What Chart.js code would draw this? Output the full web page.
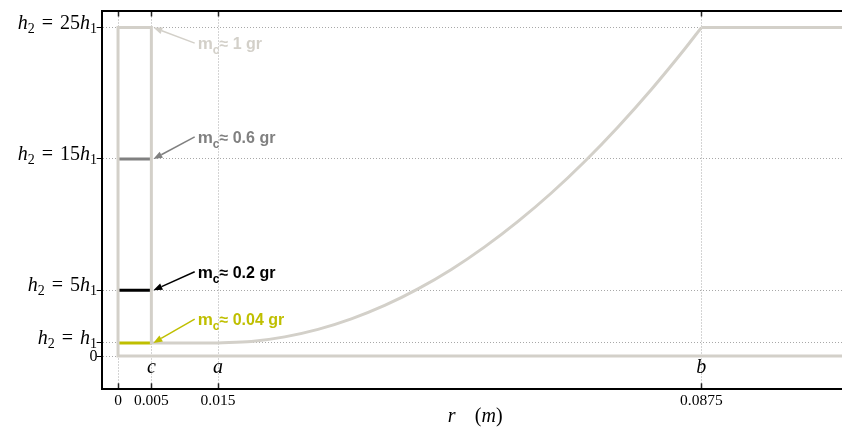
<!DOCTYPE html>
<html>
<head>
<meta charset="utf-8">
<script src="https://cdn.jsdelivr.net/npm/chart.js@4.4.0/dist/chart.umd.min.js"></script>
<style>
body { margin: 0; background: #fff; }
canvas { display: block; }
</style>
</head>
<body>
<canvas id="profile" width="842" height="430"></canvas>
<script>
// radius ticks (m) and the symbols written above them
var rTicks = [0, 0.005, 0.015, 0.0875];
var rTickLabels = ["0", "0.005", "0.015", "0.0875"];
var rSymbols = ["", "c", "a", "b"];
var rMin = -0.00245;
var rMax = 0.1086;

// height levels, in units of h1
var hTicks = [0, 1, 5, 15, 25];
var hTickLabels = ["0", "h_2 = h_1", "h_2 = 5h_1", "h_2 = 15h_1", "h_2 = 25h_1"];

// container outline: floor, left wall, lid, inner wall, step at h1
var wallR = [rMax, 0, 0, 0.005, 0.005, 0.015];
var wallH = [0, 0, 25, 25, 1, 1];

// bottom profile between a and b
var curveR = [0.015, 0.02, 0.025, 0.03, 0.035, 0.04, 0.045, 0.05, 0.055, 0.06, 0.065, 0.07, 0.075, 0.08, 0.085, 0.0875];
var curveH = [1, 1.11, 1.46, 2.03, 2.83, 3.85, 5.11, 6.59, 8.31, 10.25, 12.41, 14.81, 17.44, 20.29, 23.37, 25];

// flat part after b
var outerR = [0.0875, rMax];
var outerH = [25, 25];

// filling levels inside 0..c and the mass for each
var fillLevels = [25, 15, 5, 1];
var fillMass = ["1", "0.6", "0.2", "0.04"];
var fillColors = ["#d3d0c9", "#808080", "#000000", "#bfbf00"];
// where each mass label sits (data coords)
var noteR = [0.01195, 0.01195, 0.01195, 0.01195];
var noteH = [23.36, 16.23, 5.96, 2.36];

var wallColor = "#d3d0c9";

function pts(xs, ys) {
  return xs.map(function (x, i) { return {x: x, y: ys[i]}; });
}

var datasets = [
  {data: pts(wallR, wallH), borderColor: wallColor, borderWidth: 3, tension: 0, order: 1},
  {data: pts(curveR, curveH), borderColor: wallColor, borderWidth: 3, cubicInterpolationMode: "monotone", order: 1},
  {data: pts(outerR, outerH), borderColor: wallColor, borderWidth: 3, tension: 0, order: 1}
];
fillLevels.forEach(function (lv, i) {
  datasets.push({data: pts([0, 0.005], [lv, lv]), borderColor: fillColors[i], borderWidth: 3, order: 2});
});

// small math text renderer: italic letters, _x subscripts
function mathParts(str) {
  var parts = [];
  for (var i = 0; i < str.length; i++) {
    var ch = str[i];
    if (ch === "_") { parts.push({t: str[i + 1], sub: true}); i++; }
    else if (ch === " ") parts.push({gap: true});
    else parts.push({t: ch, it: /[a-z]/.test(ch)});
  }
  return parts;
}
function partFont(p) {
  if (p.sub) return '14px "Liberation Serif"';
  return (p.it ? "italic " : "") + '20px "Liberation Serif"';
}
function drawMath(ctx, str, right, base) {
  var parts = mathParts(str), total = 0;
  parts.forEach(function (p) {
    if (p.gap) { p.w = 7; } else { ctx.font = partFont(p); p.w = ctx.measureText(p.t).width; }
    total += p.w;
  });
  var x = right - total;
  ctx.textAlign = "left";
  ctx.textBaseline = "alphabetic";
  parts.forEach(function (p) {
    if (!p.gap) {
      ctx.font = partFont(p);
      ctx.fillText(p.t, x, p.sub ? base + 4 : base);
    }
    x += p.w;
  });
}

function arrow(ctx, x0, y0, x1, y1, color) {
  var ang = Math.atan2(y1 - y0, x1 - x0), len = 9, hw = 3.5;
  var bx = x1 - len * Math.cos(ang), by = y1 - len * Math.sin(ang);
  ctx.strokeStyle = color;
  ctx.fillStyle = color;
  ctx.lineWidth = 1.5;
  ctx.beginPath();
  ctx.moveTo(x0, y0);
  ctx.lineTo(bx, by);
  ctx.stroke();
  ctx.beginPath();
  ctx.moveTo(x1, y1);
  ctx.lineTo(bx + hw * Math.sin(ang), by - hw * Math.cos(ang));
  ctx.lineTo(bx - hw * Math.sin(ang), by + hw * Math.cos(ang));
  ctx.closePath();
  ctx.fill();
}

var overlay = {
  id: "overlay",
  afterDraw: function (chart) {
    var ctx = chart.ctx, xs = chart.scales.x, ys = chart.scales.y, area = chart.chartArea;
    ctx.save();
    ctx.fillStyle = "#000";

    // level labels on the left
    hTicks.forEach(function (v, i) {
      var py = ys.getPixelForValue(v);
      if (hTickLabels[i] === "0") {
        ctx.font = '16px "Liberation Serif"';
        ctx.textAlign = "right";
        ctx.textBaseline = "middle";
        ctx.fillText("0", 97.5, py + 1);
      } else {
        drawMath(ctx, hTickLabels[i], 97, py + 1);
      }
    });

    // c, a, b above the axis
    ctx.font = 'italic 20px "Liberation Serif"';
    ctx.textAlign = "center";
    ctx.textBaseline = "middle";
    rTicks.forEach(function (v, i) {
      if (rSymbols[i]) ctx.fillText(rSymbols[i], xs.getPixelForValue(v), 368);
    });

    // axis title  r  (m)
    var cx = (area.left + area.right) / 2 + 6, base = 421.5;
    ctx.textBaseline = "alphabetic";
    ctx.textAlign = "left";
    ctx.font = 'italic 20px "Liberation Serif"';
    ctx.fillText("r", cx - 30, base);
    ctx.font = '20px "Liberation Serif"';
    var x = cx - 3;
    ctx.fillText("(", x, base); x += ctx.measureText("(").width;
    ctx.font = 'italic 20px "Liberation Serif"';
    ctx.fillText("m", x, base); x += ctx.measureText("m").width;
    ctx.font = '20px "Liberation Serif"';
    ctx.fillText(")", x, base);

    // mass annotations
    fillLevels.forEach(function (lv, i) {
      var tx = xs.getPixelForValue(noteR[i]), tb = ys.getPixelForValue(noteH[i]);
      var col = fillColors[i];
      arrow(ctx, tx - 3, tb - 6, xs.getPixelForValue(0.005) + 2, ys.getPixelForValue(lv), col);
      ctx.fillStyle = col;
      ctx.textAlign = "left";
      ctx.textBaseline = "alphabetic";
      ctx.font = 'bold 17px "Liberation Sans"';
      ctx.fillText("m", tx, tb);
      var w = ctx.measureText("m").width;
      ctx.font = 'bold 12px "Liberation Sans"';
      ctx.fillText("c", tx + w, tb + 5);
      w += ctx.measureText("c").width;
      ctx.font = 'bold 16px "Liberation Sans"';
      ctx.fillText("\u2248 " + fillMass[i] + " gr", tx + w, tb);
    });
    ctx.restore();
  }
};

var tickSetter = function (s) {
  s.ticks = rTicks.map(function (v) { return {value: v}; });
};

new Chart(document.getElementById("profile"), {
  type: "line",
  data: {datasets: datasets},
  options: {
    responsive: false,
    animation: false,
    devicePixelRatio: 1,
    layout: {padding: 0},
    elements: {point: {radius: 0}, line: {borderJoinStyle: "miter", borderCapStyle: "butt"}},
    plugins: {legend: {display: false}, tooltip: {enabled: false}},
    scales: {
      x: {
        type: "linear", position: "bottom", min: rMin, max: rMax,
        afterBuildTicks: tickSetter,
        afterFit: function (s) { s.height = 40.7; },
        ticks: {
          callback: function (v, i) { return rTickLabels[i]; },
          font: {family: "Liberation Serif", size: 15.5},
          color: "#000", padding: 8, maxRotation: 0, autoSkip: false
        },
        grid: {color: "#a8a8a8", lineWidth: 1, tickLength: -6, tickColor: "#222", tickWidth: 1.5},
        border: {color: "#000", width: 2, dash: [1, 2]}
      },
      x2: {
        type: "linear", position: "top", min: rMin, max: rMax,
        afterBuildTicks: tickSetter,
        afterFit: function (s) { s.height = 10.5; },
        ticks: {display: false},
        grid: {drawOnChartArea: false, tickLength: -6, tickColor: "#222", tickWidth: 1.5},
        border: {color: "#000", width: 2}
      },
      y: {
        type: "linear", min: -2.53, max: 26.3,
        afterBuildTicks: function (s) { s.ticks = hTicks.map(function (v) { return {value: v}; }); },
        afterFit: function (s) { s.width = 101.7; },
        ticks: {display: false},
        grid: {color: "#a8a8a8", lineWidth: 1, tickLength: 5, tickColor: "#000", tickWidth: 1},
        border: {color: "#000", width: 2, dash: [1, 2]}
      }
    }
  },
  plugins: [overlay]
});
</script>
</body>
</html>
